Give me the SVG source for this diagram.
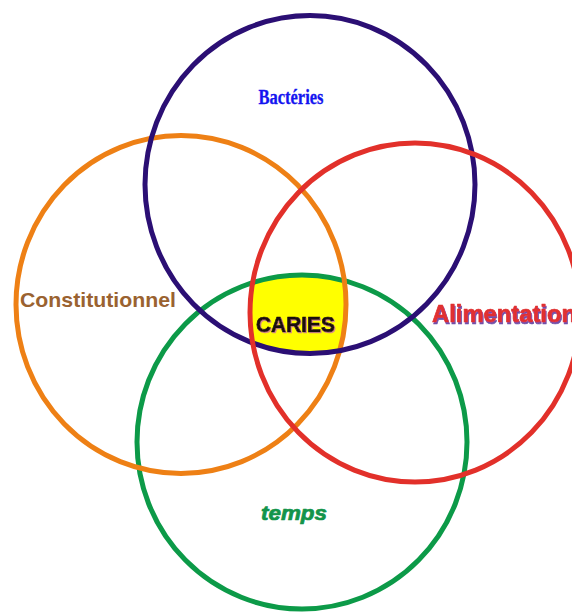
<svg xmlns="http://www.w3.org/2000/svg" width="572" height="613" viewBox="0 0 572 613">
  <style>
    .ring { fill: none; stroke-width: 5; }
    .lbl { font-family: "Liberation Sans", Arial, sans-serif; font-weight: bold; }
    .heavy { stroke-width: 0.7; stroke-linejoin: round; }
  </style>
  <defs>
    <clipPath id="clip-bact"><ellipse cx="310" cy="184.5" rx="165" ry="169"/></clipPath>
    <clipPath id="clip-const"><ellipse cx="181" cy="304.5" rx="165" ry="169"/></clipPath>
    <clipPath id="clip-alim"><ellipse cx="415" cy="312.5" rx="165" ry="169.5"/></clipPath>
    <clipPath id="clip-temps"><ellipse cx="302" cy="442" rx="165" ry="167"/></clipPath>
    <!-- offset coloured shadows behind the heavy labels -->
    <filter id="shadow-purple" x="-10%" y="-30%" width="120%" height="160%">
      <feOffset in="SourceAlpha" dx="1" dy="2" result="off"/>
      <feFlood flood-color="#7050a8"/>
      <feComposite in2="off" operator="in" result="sh"/>
      <feMerge><feMergeNode in="sh"/><feMergeNode in="SourceGraphic"/></feMerge>
    </filter>
    <filter id="shadow-pink" x="-10%" y="-30%" width="120%" height="160%">
      <feOffset in="SourceAlpha" dx="1" dy="1" result="off"/>
      <feFlood flood-color="#d88a8a"/>
      <feComposite in2="off" operator="in" result="sh"/>
      <feMerge><feMergeNode in="sh"/><feMergeNode in="SourceGraphic"/></feMerge>
    </filter>
  </defs>

  <rect width="572" height="613" fill="#ffffff"/>

  <!-- common area of the four sets -->
  <g id="overlap">
    <g clip-path="url(#clip-bact)">
      <g clip-path="url(#clip-const)">
        <g clip-path="url(#clip-alim)">
          <rect x="0" y="0" width="572" height="613" fill="#ffff00" clip-path="url(#clip-temps)"/>
        </g>
      </g>
    </g>
  </g>

  <!-- circle outlines -->
  <g id="connectors">
    <ellipse id="ring-temps" class="ring" cx="302" cy="442" rx="165" ry="167" stroke="#0c9a48"/>
    <ellipse id="ring-const" class="ring" cx="181" cy="304.5" rx="165" ry="169" stroke="#ee8015"/>
    <ellipse id="ring-bact" class="ring" cx="310" cy="184.5" rx="165" ry="169" stroke="#2b0f74"/>
    <ellipse id="ring-alim" class="ring" cx="415" cy="312.5" rx="165" ry="169.5" stroke="#e2302a"/>
  </g>

  <g id="node-bacteries">
    <text x="291" y="104" text-anchor="middle" font-family="'Liberation Serif', 'Times New Roman', serif" font-weight="bold" font-size="20" fill="#1414f0" stroke="#1414f0" stroke-width="0.3" textLength="65" lengthAdjust="spacingAndGlyphs">Bactéries</text>
  </g>

  <g id="node-constitutionnel">
    <text class="lbl" x="20" y="307" font-size="21" fill="#9a6230" textLength="156" lengthAdjust="spacingAndGlyphs">Constitutionnel</text>
  </g>

  <g id="node-alimentation">
    <text class="lbl heavy" x="432" y="322" font-size="23" fill="#e03030" stroke="#e03030" filter="url(#shadow-purple)" textLength="144" lengthAdjust="spacingAndGlyphs">Alimentation</text>
  </g>

  <g id="node-caries">
    <text class="lbl heavy" x="256" y="332" font-size="22" fill="#1a1010" stroke="#1a1010" filter="url(#shadow-pink)" textLength="79" lengthAdjust="spacingAndGlyphs">CARIES</text>
  </g>

  <g id="node-temps">
    <text class="lbl heavy" x="261" y="520" font-size="20" font-style="italic" fill="#12944a" stroke="#12944a" textLength="66" lengthAdjust="spacingAndGlyphs">temps</text>
  </g>
</svg>
